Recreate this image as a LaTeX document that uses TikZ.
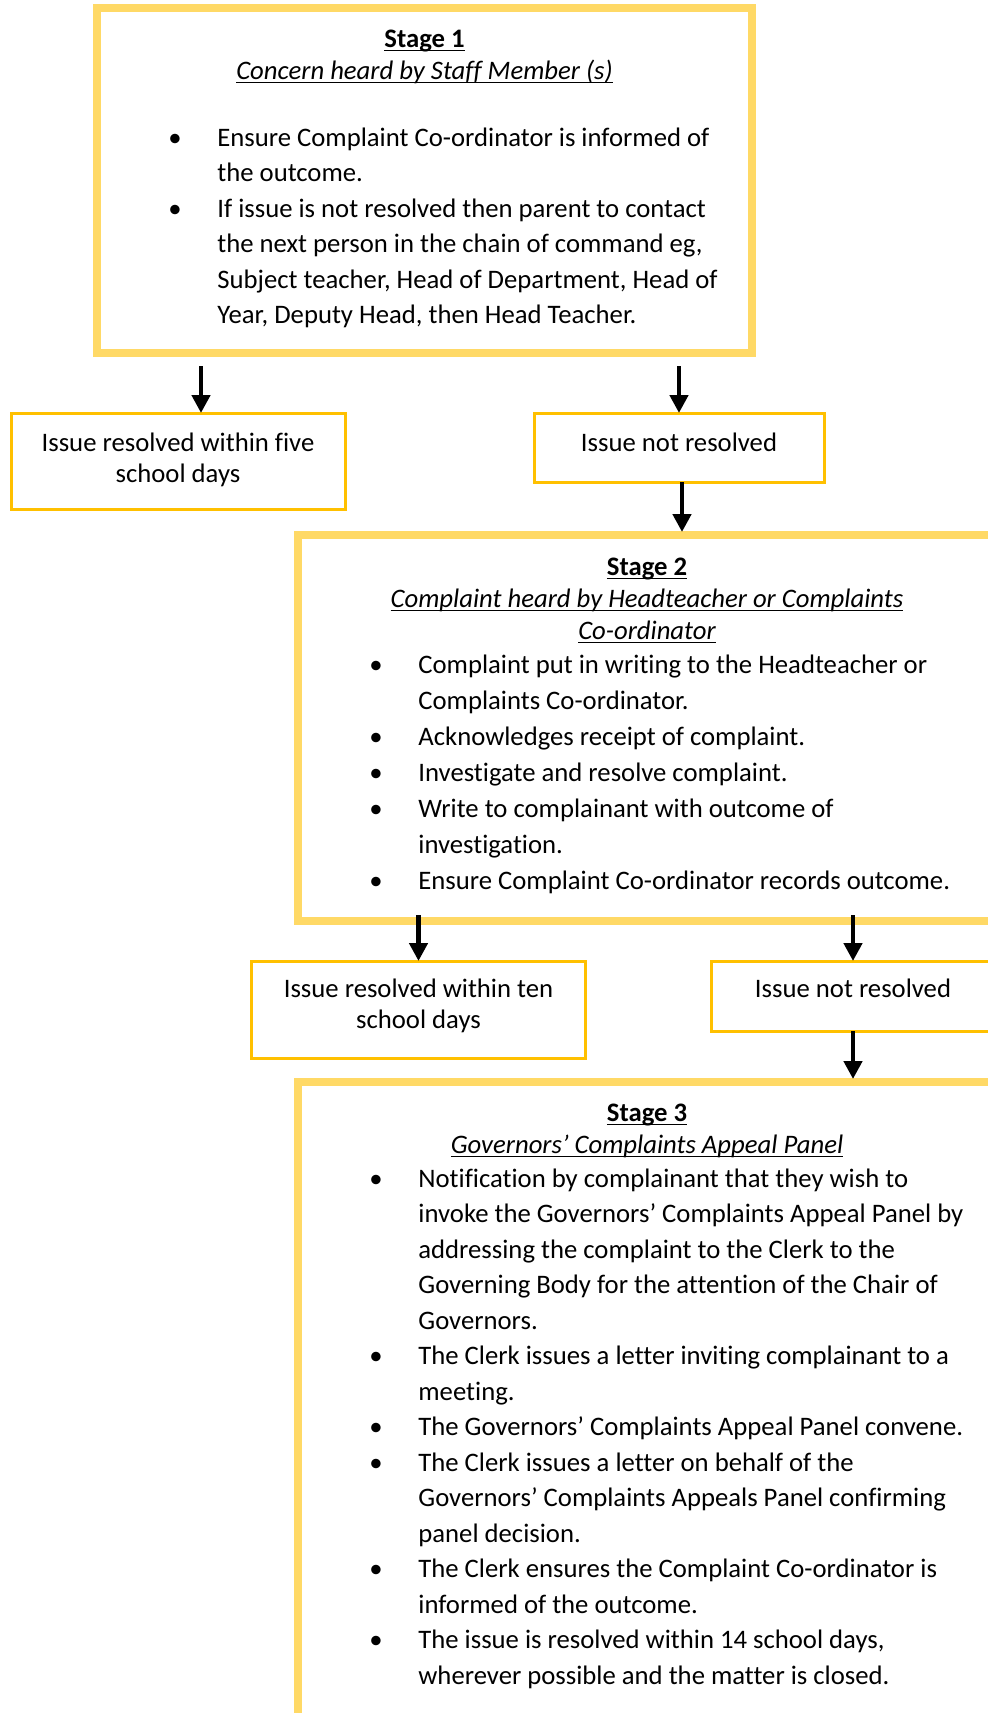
\documentclass[tikz,border=0pt]{standalone}
\usepackage{fontspec}
\setmainfont{Carlito}[Ligatures=NoCommon]
\usetikzlibrary{arrows.meta,positioning}
\definecolor{stagegold}{RGB}{255,217,102}
\definecolor{outcomegold}{RGB}{255,192,0}
\newcommand{\ulbox}[1]{\setbox0\hbox{#1}\rlap{\rule[-2.2pt]{\wd0}{0.8pt}}\box0}
\newcommand{\bul}{\makebox[42.5pt]{\textbullet}}
\tikzset{
  stagebox/.style={rectangle, draw=stagegold, line width=4pt, inner sep=0pt, outer sep=0pt, anchor=north west},
  outcomebox/.style={rectangle, draw=outcomegold, line width=1.5pt, inner sep=0pt, outer sep=0pt, anchor=north west},
  headtext/.style={anchor=base, inner sep=0pt, font=\fontsize{13.35pt}{16pt}\selectfont},
  listtext/.style={anchor=base west, inner sep=0pt, font=\fontsize{13.35pt}{17.75pt}\selectfont},
  boxtext/.style={anchor=base, inner sep=0pt, font=\fontsize{13.35pt}{15.5pt}\selectfont},
  flowarrow/.style={line width=2.25pt, -{Triangle[length=9pt,width=9pt]}}
}
\begin{document}
\begin{tikzpicture}[x=0.5pt,y=-0.5pt]
	\useasboundingbox (0,0) rectangle (988,1713);
	\clip (0,0) rectangle (988,1713);
	% stage 1
	\node[stagebox, minimum width=327.5pt, minimum height=172.5pt] (stageone) at (97,8) {};
	\node[headtext] (headone) at ([yshift=-19.5pt]stageone.north) {\begin{tabular}[t]{@{}c@{}}\textbf{\ulbox{Stage 1}}\\ \textit{\ulbox{Concern heard by Staff Member (s)}}\end{tabular}};
	\node[listtext] (listone) at ([xshift=17.5pt,yshift=-69pt]stageone.north west) {\begin{tabular}[t]{@{}l@{}l@{}}
		\bul & Ensure Complaint Co-ordinator is informed of\\
		& the outcome.\\
		\bul & If issue is not resolved then parent to contact\\
		& the next person in the chain of command eg,\\
		& Subject teacher, Head of Department, Head of\\
		& Year, Deputy Head, then Head Teacher.
	\end{tabular}};
	\node[outcomebox, minimum width=167pt, minimum height=48pt] (resolvedone) at (11,413) {};
	\node[boxtext] (txtresolvedone) at ([yshift=-19pt]resolvedone.north) {\begin{tabular}[t]{@{}c@{}}Issue resolved within five\\ school days\end{tabular}};
	\node[outcomebox, minimum width=145pt, minimum height=34.5pt] (notresolvedone) at (534,413) {};
	\node[boxtext] (txtnotresolvedone) at ([yshift=-19pt]notresolvedone.north) {Issue not resolved};
	% stage 2
	\node[stagebox, minimum width=349pt, minimum height=193pt] (stagetwo) at (298,535) {};
	\node[headtext] (headtwo) at ([yshift=-20pt]stagetwo.north) {\begin{tabular}[t]{@{}c@{}}\textbf{\ulbox{Stage 2}}\\ \textit{\ulbox{Complaint heard by Headteacher or Complaints}}\\ \textit{\ulbox{Co-ordinator}}\end{tabular}};
	\node[listtext, font=\fontsize{13.35pt}{18pt}\selectfont] (listtwo) at ([xshift=17.5pt,yshift=-69pt]stagetwo.north west) {\begin{tabular}[t]{@{}l@{}l@{}}
		\bul & Complaint put in writing to the Headteacher or\\
		& Complaints Co-ordinator.\\
		\bul & Acknowledges receipt of complaint.\\
		\bul & Investigate and resolve complaint.\\
		\bul & Write to complainant with outcome of\\
		& investigation.\\
		\bul & Ensure Complaint Co-ordinator records outcome.
	\end{tabular}};
	\node[outcomebox, minimum width=167pt, minimum height=48.5pt] (resolvedtwo) at (251.5,961) {};
	\node[boxtext] (txtresolvedtwo) at ([yshift=-18pt]resolvedtwo.north) {\begin{tabular}[t]{@{}c@{}}Issue resolved within ten\\ school days\end{tabular}};
	\node[outcomebox, minimum width=142pt, minimum height=35pt] (notresolvedtwo) at (711,961) {};
	\node[boxtext] (txtnotresolvedtwo) at ([yshift=-18pt]notresolvedtwo.north) {Issue not resolved};
	% stage 3
	\node[stagebox, minimum width=349pt, minimum height=350pt] (stagethree) at (298,1082) {};
	\node[headtext] (headthree) at ([yshift=-19.5pt]stagethree.north) {\begin{tabular}[t]{@{}c@{}}\textbf{\ulbox{Stage 3}}\\ \textit{\ulbox{Governors’ Complaints Appeal Panel}}\end{tabular}};
	\node[listtext] (listthree) at ([xshift=17.5pt,yshift=-52.5pt]stagethree.north west) {\begin{tabular}[t]{@{}l@{}l@{}}
		\bul & Notification by complainant that they wish to\\
		& invoke the Governors’ Complaints Appeal Panel by\\
		& addressing the complaint to the Clerk to the\\
		& Governing Body for the attention of the Chair of\\
		& Governors.\\
		\bul & The Clerk issues a letter inviting complainant to a\\
		& meeting.\\
		\bul & The Governors’ Complaints Appeal Panel convene.\\
		\bul & The Clerk issues a letter on behalf of the\\
		& Governors’ Complaints Appeals Panel confirming\\
		& panel decision.\\
		\bul & The Clerk ensures the Complaint Co-ordinator is\\
		& informed of the outcome.\\
		\bul & The issue is resolved within 14 school days,\\
		& wherever possible and the matter is closed.
	\end{tabular}};
	% arrows
	\draw[flowarrow] ([xshift=11.5pt,yshift=-6.5pt]resolvedone.north |- stageone.south) -- ([xshift=11.5pt]resolvedone.north);
	\draw[flowarrow] ([yshift=-6.5pt]notresolvedone.north |- stageone.south) -- (notresolvedone.north);
	\draw[flowarrow] ([xshift=1.5pt]notresolvedone.south) -- ([xshift=1.5pt,yshift=1.5pt]notresolvedone.south |- stagetwo.north);
	\draw[flowarrow] ([yshift=3pt]resolvedtwo.north |- stagetwo.south) -- (resolvedtwo.north);
	\draw[flowarrow] ([yshift=3pt]notresolvedtwo.north |- stagetwo.south) -- (notresolvedtwo.north);
	\draw[flowarrow] (notresolvedtwo.south) -- ([yshift=1.5pt]notresolvedtwo.south |- stagethree.north);
\end{tikzpicture}
\end{document}
